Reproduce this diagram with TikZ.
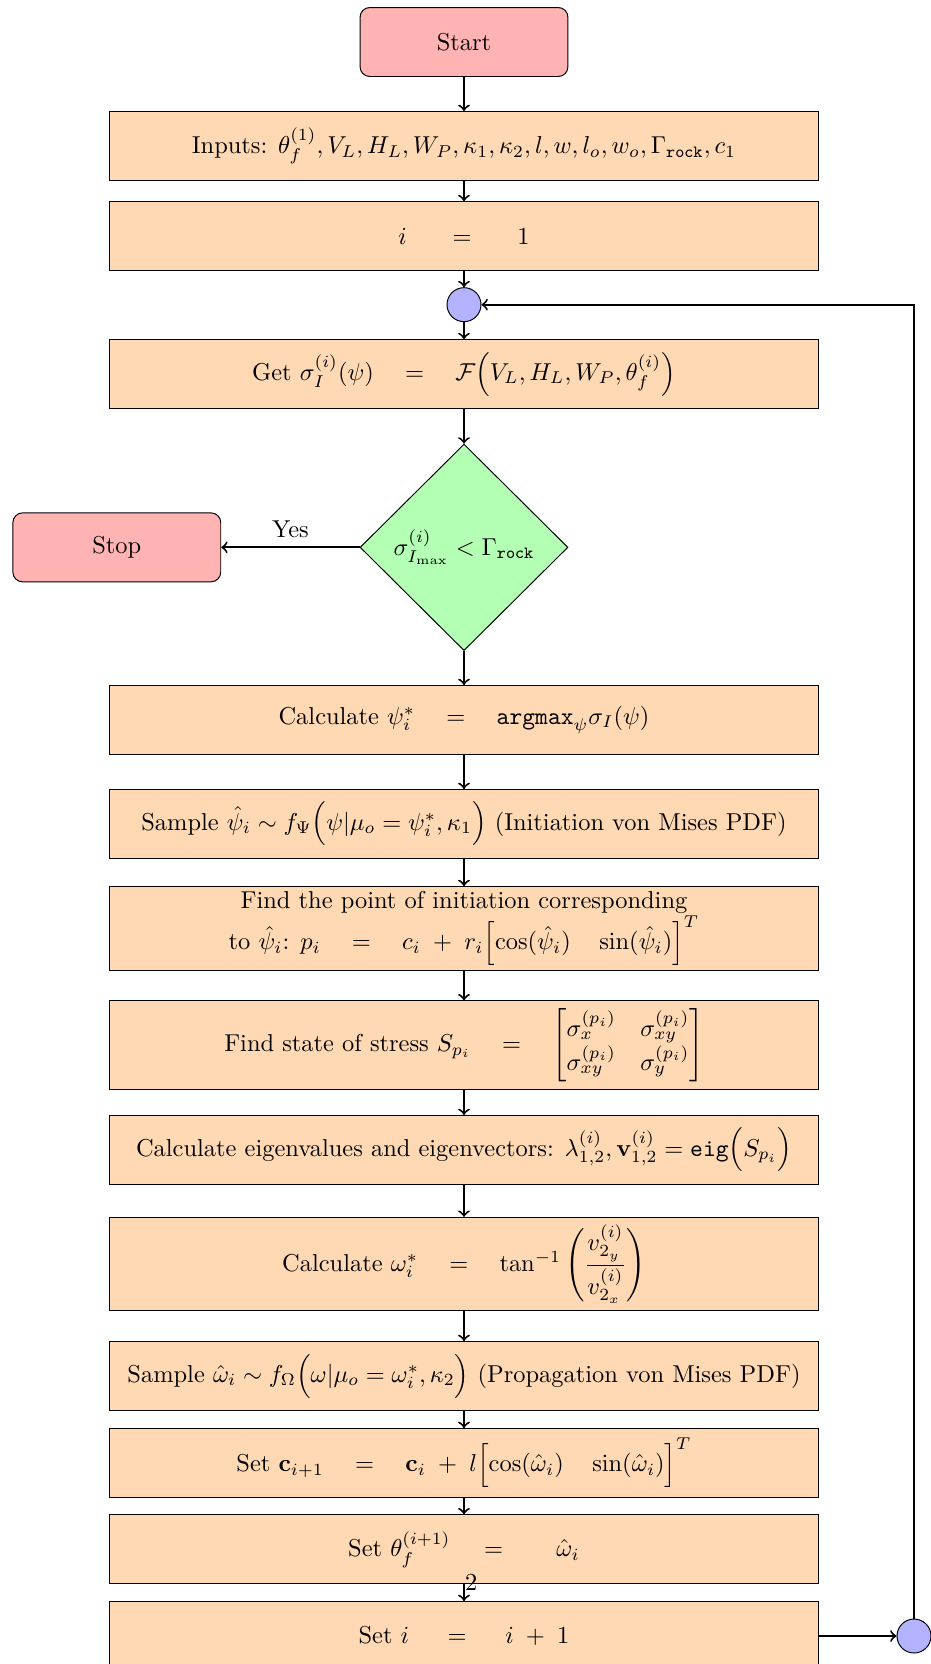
\documentclass[tikz,border=0pt]{standalone}
\usepackage{xcolor}
\usepackage{tikz}
\usepackage{amsmath}
\usetikzlibrary{shapes.geometric}
\definecolor{termred}{HTML}{FFB3B3}
\definecolor{procorange}{HTML}{FFD9B3}
\definecolor{decgreen}{HTML}{B3FFB3}
\definecolor{joinblue}{HTML}{B3B3FF}

\begin{document}
\begin{tikzpicture}[x=0.9588cm,y=0.9588cm,
  termbox/.style={draw,rounded corners,fill=termred,minimum width=2.99cm,minimum height=0.992cm},
  procbox/.style={draw,fill=procorange,minimum width=10.20cm,minimum height=0.992cm,align=center,inner sep=2pt},
  decbox/.style={draw,diamond,fill=decgreen,minimum width=2.99cm,minimum height=2.97cm,inner sep=0pt},
  joinpt/.style={draw,circle,fill=joinblue,minimum size=0.489cm,inner sep=0pt},
  flow/.style={->,thick}]
  \useasboundingbox (0,0) rectangle (13.965,-24.96);
  \node[termbox] (start) at (6.96,-0.63) {Start};
  \node[procbox] (inputs) at (6.96,-2.19) {Inputs: $\theta^{(1)}_f, V_L, H_L, W_P, \kappa_1, \kappa_2, l, w, l_o, w_o, \Gamma_{\texttt{rock}}, c_1$};
  \node[procbox] (iinit) at (6.96,-3.543) {$i \hspace{1.6em} = \hspace{1.6em} 1$};
  \node[joinpt] (joinA) at (6.96,-4.57) {};
  \node[procbox] (getsig) at (6.96,-5.613) {Get $\sigma^{(i)}_I(\psi) \quad = \quad \mathcal{F}\Big(V_L, H_L, W_P, \theta^{(i)}_f\Big)$};
  \node[decbox] (check) at (6.96,-8.21) {$\sigma^{(i)}_{I_{\max}} < \Gamma_{\texttt{rock}}$};
  \node[termbox] (stop) at (1.752,-8.21) {Stop};
  \node[procbox] (calcpsi) at (6.96,-10.80) {Calculate $\psi^*_i \quad = \quad \texttt{argmax}_\psi \sigma_I(\psi)$};
  \node[procbox] (samplepsi) at (6.96,-12.36) {Sample $\hat{\psi}_i \sim f_\Psi\Big(\psi | \mu_o = \psi^*_i, \kappa_1\Big)$ (Initiation von Mises PDF)};
  \node[procbox,minimum height=1.112cm] (findp) at (6.96,-13.93) {Find the point of initiation corresponding\\ to $\hat{\psi}_i$: $p_i \quad = \quad c_i \;+\; r_i \Bigl[\cos(\hat{\psi}_i) \quad \sin(\hat{\psi}_i)\Bigr]^T$};
  \node[procbox,minimum height=1.28cm] (findS) at (6.96,-15.68) {Find state of stress $S_{p_i} \quad = \quad \begin{bmatrix} \sigma^{(p_i)}_x & \sigma^{(p_i)}_{xy} \\ \sigma^{(p_i)}_{xy} & \sigma^{(p_i)}_y \end{bmatrix}$};
  \node[procbox] (calceig) at (6.96,-17.25) {Calculate eigenvalues and eigenvectors: $\lambda^{(i)}_{1,2}, \mathbf{v}^{(i)}_{1,2} = \texttt{eig}\Big(S_{p_i}\Big)$};
  \node[procbox,minimum height=1.342cm] (calcom) at (6.96,-18.96) {Calculate $\omega^*_i \quad = \quad \tan^{-1}\left(\dfrac{v^{(i)}_{2_y}}{v^{(i)}_{2_x}}\right)$};
  \node[procbox] (sampleom) at (6.96,-20.64) {Sample $\hat{\omega}_i \sim f_\Omega\Big(\omega | \mu_o = \omega^*_i, \kappa_2\Big)$ (Propagation von Mises PDF)};
  \node[procbox] (setc) at (6.96,-21.945) {Set $\mathbf{c}_{i+1} \quad = \quad \mathbf{c}_i \;+\; l \Bigl[\cos(\hat{\omega}_i) \quad \sin(\hat{\omega}_i)\Bigr]^T$};
  \node[procbox] (settheta) at (6.96,-23.24) {Set $\theta^{(i+1)}_f \hspace{1.1em} = \hspace{1.9em} \hat{\omega}_i$};
  \node[procbox] (setinc) at (6.96,-24.54) {Set $i \hspace{1.3em} = \hspace{1.3em} i \;+\; 1$};
  \node[joinpt] (joinB) at (13.71,-24.54) {};
  \node (pagenum) at (7.07,-23.73) {2};

  \foreach \a/\b in {start/inputs,inputs/iinit,iinit/joinA,joinA/getsig,getsig/check,check/calcpsi,calcpsi/samplepsi,samplepsi/findp,findp/findS,findS/calceig,calceig/calcom,calcom/sampleom,sampleom/setc,setc/settheta,settheta/setinc,setinc/joinB}
    \draw[flow] (\a) -- (\b);
  \draw[flow] (check) -- node[above] {Yes} (stop);
  \draw[flow] (joinB) |- (joinA);
\end{tikzpicture}
\end{document}
